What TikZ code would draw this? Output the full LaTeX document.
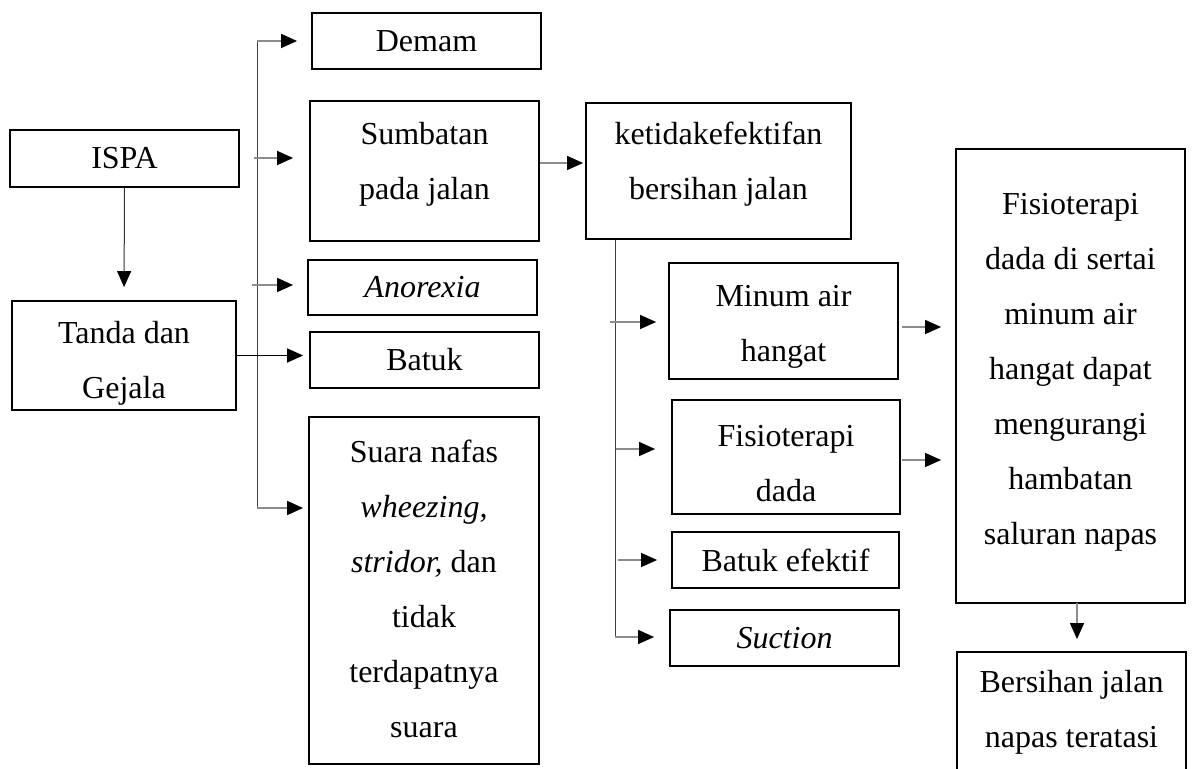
\documentclass[tikz,border=0pt]{standalone}
\usepackage{fontspec}
\setmainfont{Liberation Serif}
\usetikzlibrary{arrows.meta}
\tikzset{
  box/.style={draw, line width=0.9pt, rectangle, inner sep=0pt},
  txt/.style={inner sep=0pt, align=center, font=\fontsize{16pt}{27.5pt}\selectfont},
  boxt/.style={box, font=\fontsize{16pt}{27.5pt}\selectfont},
  tline/.style={draw=black!75, line width=0.5pt},
  arr/.style={draw=black!45, line width=0.7pt, -{Triangle[length=8pt,width=7pt,color=black]}},
  darr/.style={draw=black!80, line width=0.5pt, -{Triangle[length=8pt,width=7pt,color=black]}},
  barr/.style={draw=black, line width=0.8pt, -{Triangle[length=8pt,width=7pt,color=black]}}
}
\begin{document}
\begin{tikzpicture}[x=0.5pt,y=-0.5pt]
\useasboundingbox (0,0) rectangle (1194,769);
% column 1
\node[boxt, minimum width=114.5pt, minimum height=28.5pt] (ispa) at (124.5,158.5) {ISPA};
\node[box, minimum width=112pt, minimum height=54.5pt] (tanda) at (124,355.5) {};
\node[txt] (tandat) at (124,363.5) {Tanda dan\\Gejala};
% column 2
\node[boxt, minimum width=114.5pt, minimum height=28pt] (demam) at (426.5,41) {Demam};
\node[box, minimum width=114.5pt, minimum height=70pt] (sumb) at (424.5,171) {};
\node[txt] (sumbt) at (424.5,164.5) {Sumbatan\\pada jalan};
\node[boxt, minimum width=114.5pt, minimum height=27.5pt] (anor) at (422.5,287.5) {\textit{Anorexia}};
\node[boxt, minimum width=114.5pt, minimum height=28pt] (batuk) at (424.5,360) {Batuk};
\node[box, minimum width=115pt, minimum height=173.5pt] (suara) at (424,590.5) {};
\node[txt] (suarat) at (424,588.5) {Suara nafas\\\textit{wheezing,}\\\textit{stridor,} dan\\tidak\\terdapatnya\\suara};
% column 3
\node[box, minimum width=132.5pt, minimum height=68pt] (ketidak) at (718.5,171) {};
\node[txt] (ketidakt) at (718.5,164.5) {ketidakefektifan\\bersihan jalan};
\node[box, minimum width=114.5pt, minimum height=58pt] (minum) at (783.5,321) {};
\node[txt] (minumt) at (783.5,326.5) {Minum air\\hangat};
\node[box, minimum width=114pt, minimum height=57pt] (fisio) at (786,457) {};
\node[txt] (fisiot) at (786,463.5) {Fisioterapi\\dada};
\node[boxt, minimum width=113.5pt, minimum height=28pt] (batukef) at (785.5,560) {Batuk efektif};
\node[boxt, minimum width=114.5pt, minimum height=28pt] (suction) at (784.5,638) {\textit{Suction}};
% column 4
\node[box, minimum width=114.5pt, minimum height=227pt] (big) at (1070.5,376) {};
\node[txt] (bigt) at (1070.5,372.5) {Fisioterapi\\dada di sertai\\minum air\\hangat dapat\\mengurangi\\hambatan\\saluran napas};
\node[box, minimum width=114.5pt, minimum height=60pt] (bers) at (1071.5,712) {};
\node[txt] (berst) at (1071.5,712.5) {Bersihan jalan\\napas teratasi};
% connectors, first fan
\coordinate (ta) at (257,41);
\coordinate (tb) at (257,508);
\draw[tline] (ta) -- (tb);
\draw[arr, shorten >=7pt] (ta) -- (ta -| demam.west);
\coordinate (s1) at (254,158);
\draw[arr, shorten >=8pt] (s1) -- (s1 -| sumb.west);
\coordinate (a1) at (252,285);
\draw[arr, shorten >=7pt] (a1) -- (a1 -| anor.west);
\draw[barr, shorten >=3pt] (tanda.east) -- (tanda.east -| batuk.west);
\draw[arr, shorten >=2.5pt] (tb) -- (tb -| suara.west);
\draw[darr, shorten >=6.5pt] (ispa.south) -- (tanda.north);
% sumbatan -> ketidak
\coordinate (se) at ([yshift=4pt]sumb.east);
\draw[arr, shorten >=1pt] (se) -- (se -| ketidak.west);
% second fan
\coordinate (bt) at (615,637);
\draw[tline] (ketidak.south -| bt) -- (bt);
\coordinate (m1) at (610,322);
\draw[arr, shorten >=6pt] (m1) -- (m1 -| minum.west);
\coordinate (f1) at (616,449);
\draw[arr, shorten >=8pt] (f1) -- (f1 -| fisio.west);
\coordinate (b1) at (618,560);
\draw[arr, shorten >=7pt] (b1) -- (b1 -| batukef.west);
\draw[arr, shorten >=7.5pt] (bt) -- (bt -| suction.west);
% to big box
\coordinate (mb) at (902,327);
\draw[arr, shorten >=7pt] (mb) -- (mb -| big.west);
\coordinate (fb) at (902,460);
\draw[arr, shorten >=7pt] (fb) -- (fb -| big.west);
\coordinate (bb) at (1077,603);
\draw[arr, shorten >=6pt] (bb) -- (bb |- bers.north);
\end{tikzpicture}
\end{document}
